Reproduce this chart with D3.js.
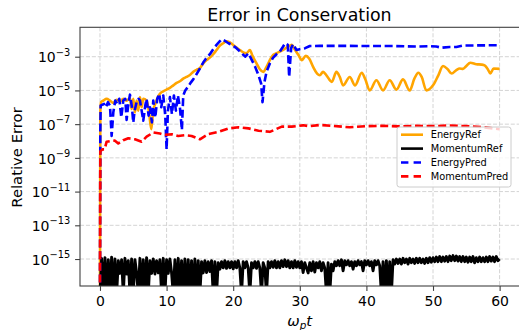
<!DOCTYPE html>
<html><head><meta charset="utf-8">
<script src="https://cdn.jsdelivr.net/npm/d3@7"></script>
<style>
body{margin:0;background:#fff}
svg{display:block}
text{font-family:"DejaVu Sans",sans-serif;fill:#000}
</style>
</head><body>
<svg id="c" width="519" height="330"></svg>
<script>
// ---------------- data ----------------
const xTicks = [0, 10, 20, 30, 40, 50, 60];
const yTickExps = [-15, -13, -11, -9, -7, -5, -3];
const seriesNames = ["EnergyRef", "MomentumRef", "EnergyPred", "MomentumPred"];

const energyRefT = [0,0.05,0.15,0.5,1,1.5,2,2.5,3,3.5,4,4.5,4.75,5,5.25,5.5,5.75,6,6.25,6.5,7,7.4,7.7,8,8.3,8.7,9,9.5,10,10.5,11,11.5,12,12.5,13,13.5,14,14.5,15,15.5,16,16.5,17,17.5,18,18.5,19,19.5,20,20.5,21,21.5,22,22.5,22.9,23.5,24,24.5,25,25.5,26,26.5,27,27.5,28,28.5,28.8,29.2,29.8,30.3,30.9,31.4,32,32.6,33,33.5,34,34.8,35.5,36,36.5,37.5,38.3,39.3,39.8,40.5,41.5,42.5,43.5,44.5,45.5,46.5,47.2,47.8,48.3,49,50,50.8,51.5,52.2,52.8,53.5,54,54.5,55,55.6,56.5,57.3,57.8,58.3,58.6,59.1,60];
const energyRefV = [0,5e-7,2.0e-6,2.5e-6,3.2e-6,2.5e-6,1.8e-6,2.8e-6,2.2e-6,3.2e-6,2.5e-6,3.5e-6,7.9e-7,3.2e-6,5e-7,2.5e-6,6.3e-7,4e-6,1e-6,3.2e-6,2.5e-6,4e-7,5e-8,6.3e-7,1.6e-6,4e-6,6.3e-6,8.9e-6,1.12e-5,1.4e-5,2e-5,2.8e-5,3.5e-5,5e-5,6.3e-5,8.3e-5,1.26e-4,1.66e-4,2.1e-4,4e-4,6.3e-4,8.9e-4,1.4e-3,2.5e-3,4.5e-3,6.3e-3,8.3e-3,7.1e-3,5e-3,3.5e-3,2.5e-3,1.8e-3,1.6e-3,2.5e-3,1.12e-3,4e-4,1.8e-4,1.26e-4,2.5e-4,6.3e-4,1.26e-3,1.6e-3,2e-3,2.5e-3,3.5e-3,4.5e-3,5e-3,2.8e-3,1.26e-3,6.3e-4,1.12e-3,7.9e-4,2.5e-4,1e-4,7.9e-5,1.26e-4,7.9e-5,3.2e-5,1.26e-4,6.3e-5,2e-5,6.3e-5,2e-5,1.12e-4,5e-5,1e-5,4e-5,1e-5,4e-5,1.12e-5,4.5e-5,1e-5,5e-5,1.12e-4,6.3e-5,1e-5,2e-5,7.9e-5,2.8e-4,1.8e-4,1e-4,1.6e-4,2e-4,1.9e-4,2.8e-4,4.4e-4,3.6e-4,3.4e-4,3e-4,1.6e-4,1e-4,2e-4,1.9e-4];

const energyPredT = [0,0.05,0.1,0.3,0.6,0.9,1.2,1.5,1.75,2,2.3,2.6,2.9,3.2,3.5,3.8,4,4.2,4.5,4.8,5,5.2,5.5,5.8,6,6.3,6.5,6.8,7,7.3,7.5,7.8,8,8.3,8.6,8.9,9.2,9.5,9.8,10,10.2,10.5,10.8,11.1,11.4,11.7,12,12.3,12.5,12.8,13.2,13.6,14,14.4,15,15.5,15.9,16.5,17,17.5,18,18.3,18.7,19.3,19.8,20.5,21.3,21.8,22.3,22.8,23.3,23.8,24.2,24.4,24.7,25,25.5,26,26.5,27,27.4,27.8,28.2,28.4,28.7,29,29.5,30,30.8,31.5,33,36,40,44,47.5,49.5,50.5,51.3,52.5,53.5,54.5,60];
const energyPredV = [0,3.2e-8,1.26e-6,1.4e-6,1.6e-6,1e-6,2e-6,1.26e-6,2e-8,5e-7,2.5e-6,1.6e-6,3.2e-6,2.5e-7,2.5e-6,3.2e-6,1.8e-7,1e-6,5.6e-6,1e-6,1.26e-7,6.3e-7,2e-6,3.2e-6,2.5e-6,5e-7,1.6e-7,1.26e-6,3.2e-6,3.2e-7,1e-6,1.26e-7,2.5e-6,2.5e-7,3.2e-6,6.3e-6,1e-6,5e-6,3.2e-7,3.2e-9,6.3e-7,4e-6,4e-7,5e-6,6.3e-7,5e-6,1e-6,4.5e-8,5e-6,1e-5,1.6e-5,2.8e-5,4.5e-5,7.9e-5,2e-4,4.5e-4,7.6e-4,1.4e-3,2.8e-3,5e-3,8.3e-3,1.07e-2,8.9e-3,6.3e-3,5e-3,3.2e-3,1.6e-3,1e-3,1.6e-3,6.3e-4,2.5e-4,7.9e-5,2.5e-5,2e-6,3.2e-5,1.26e-4,4e-4,8.9e-4,1.4e-3,2e-3,3.5e-3,6.3e-3,5e-3,6.3e-5,3.2e-3,5.6e-3,2.5e-3,2.8e-3,3.2e-3,4.3e-3,4.4e-3,4.4e-3,4.3e-3,4.3e-3,4e-3,4.2e-3,4e-3,3.4e-3,3.8e-3,3.8e-3,4.6e-3,4.8e-3];

const momentumPredT = [0,0.05,0.4,0.7,1,1.6,2.25,2.75,3.5,4.25,5.25,6.25,7,8,9,9.75,10.8,11.75,12.8,13.75,15,16.3,17.8,19.3,20.8,22.3,23.8,25.5,27.3,28.8,30.5,31.5,33,35,37.5,40,42.5,45,47.5,50,52.5,55,57.5,60];
const momentumPredV = [0,2.5e-9,3.2e-9,3.2e-9,9.1e-9,1e-8,1.05e-8,7.2e-9,1.12e-8,1.45e-8,1.26e-8,9.1e-9,1.8e-8,3.2e-8,2.8e-8,2.3e-8,2.5e-8,2e-8,2.2e-8,2e-8,1.26e-8,2.6e-8,3.5e-8,5.6e-8,6.5e-8,5.6e-8,4.1e-8,3.5e-8,7.1e-8,7.1e-8,8.5e-8,7.6e-8,8.9e-8,7.9e-8,6.5e-8,7.6e-8,7.9e-8,7.4e-8,7.9e-8,7.6e-8,8.3e-8,7.6e-8,6.6e-8,5e-8];

// MomentumRef sampled every 0.25 time units from t = 0 to t = 60
const momentumRefDt = 0.25;
const momentumRefV = [
0,11e-16,0,12e-16, 0,9e-16,0,13e-16, 0,10e-16,0,8e-16, 1.4e-16,9e-16,0,11e-16, 1.3e-16,8e-16,0,10e-16,
0,9e-16,1.5e-16,0, 11e-16,0,9e-16,0, 12e-16,0,8e-16,1.4e-16, 10e-16,1.3e-16,8e-16,1.5e-16, 9e-16,0,11e-16,0,
9e-16,1.4e-16,10e-16,1.5e-16, 0,9e-16,0,11e-16, 0,8e-16,0,10e-16, 0,9e-16,0,8e-16, 0,10e-16,0,8e-16,
0,7e-16,1.5e-16,8e-16, 1.6e-16,7e-16,1.8e-16,8e-16, 0,7e-16,0,6e-16, 2.5e-16,7e-16,3e-16,8e-16, 2.8e-16,7e-16,3e-16,7e-16,
2.6e-16,7e-16,3e-16,8e-16, 3e-16,0,7e-16,3e-16, 7e-16,3e-16,0,6e-16, 3e-16,7e-16,2.8e-16,7e-16, 3e-16,0,6e-16,3e-16,
0,7e-16,3e-16,7e-16, 3.2e-16,8e-16,3e-16,7e-16, 3e-16,8e-16,3.5e-16,9e-16, 3.5e-16,8e-16,3e-16,7e-16, 3e-16,8e-16,3.2e-16,7e-16,
3e-16,7e-16,1.6e-16,6e-16, 3e-16,1.5e-16,6e-16,2e-16, 7e-16,1.7e-16,6e-16,3e-16, 7e-16,2e-16,6e-16,3e-16, 0,6e-16,0,5e-16,
2e-16,7e-16,4e-16,8e-16, 4e-16,9e-16,2e-16,8e-16, 4.5e-16,8e-16,4e-16,7e-16, 2.5e-16,7e-16,4e-16,8e-16, 4.5e-16,7e-16,2e-16,8e-16,
4.5e-16,8e-16,4e-16,7e-16, 2e-16,8e-16,4.5e-16,8e-16, 4e-16,0,7e-16,0, 8e-16,0,7e-16,0, 9e-16,5e-16,10e-16,5.5e-16,
10e-16,5e-16,11e-16,6e-16, 10e-16,5e-16,11e-16,6e-16, 10e-16,5.5e-16,11e-16,6e-16, 11e-16,6e-16,10e-16,5.5e-16, 11e-16,6e-16,12e-16,6.5e-16,
12e-16,7e-16,13e-16,7e-16, 14e-16,7e-16,13e-16,7.5e-16, 14e-16,7e-16,15e-16,8e-16, 16e-16,8e-16,15e-16,7.5e-16, 14e-16,7e-16,14e-16,7e-16,
13e-16,6.5e-16,13e-16,7e-16, 14e-16,6e-16,12e-16,7e-16, 13e-16,7e-16,12e-16,7e-16, 13e-16,7e-16,14e-16,7.5e-16, 13e-16,7e-16,14e-16,8e-16,
10e-16];
const momentumRefT = momentumRefV.map((_, i) => i * momentumRefDt);

// ---------------- chart ----------------
const svg = d3.select("#c");
const box = {left: 80, right: 519.6, top: 27.3, bottom: 286};
const x = d3.scaleLinear().domain([-3, 63]).range([box.left, box.right]);
const y = d3.scaleLog().domain([Math.pow(10, -16.6), Math.pow(10, -1.256)]).range([box.bottom, box.top]);
// non-positive values are clipped just below the bottom of the axes
const yv = v => v > 0 ? y(v) : box.bottom + 8;

svg.append("defs").append("clipPath").attr("id", "clip")
  .append("rect").attr("x", box.left).attr("y", box.top)
  .attr("width", box.right - box.left).attr("height", box.bottom - box.top);

// grid
const grid = svg.append("g").attr("stroke", "#d4d4d4").attr("stroke-width", 1)
  .attr("stroke-dasharray", "4.1,1.8");
grid.selectAll(".gx").data(xTicks).join("line")
  .attr("x1", d => x(d)).attr("x2", d => x(d)).attr("y1", box.top).attr("y2", box.bottom);
grid.selectAll(".gy").data(yTickExps).join("line")
  .attr("y1", d => y(Math.pow(10, d))).attr("y2", d => y(Math.pow(10, d)))
  .attr("x1", box.left).attr("x2", box.right);

// lines
const plot = svg.append("g").attr("clip-path", "url(#clip)");
function drawLine(ts, vs, color, dash, curve, width) {
  const pts = ts.map((t, i) => [t, vs[i]]);
  const line = d3.line().x(d => x(d[0])).y(d => yv(d[1])).curve(curve || d3.curveLinear);
  plot.append("path").datum(pts).attr("d", line)
    .attr("fill", "none").attr("stroke", color).attr("stroke-width", width || 2.6)
    .attr("stroke-linejoin", "round")
    .attr("stroke-dasharray", dash || null);
}
drawLine(energyRefT, energyRefV, "#ffa500", null, d3.curveMonotoneX);
drawLine(momentumRefT, momentumRefV, "#000000", null, null, 2.9);
drawLine(energyPredT, energyPredV, "#0000ff", "8,3.6");
drawLine(momentumPredT, momentumPredV, "#ff0000", "8,3.6");

// axes
const spine = "#404040";
const xAxis = svg.append("g").attr("transform", `translate(0,${box.bottom})`)
  .call(d3.axisBottom(x).tickValues(xTicks).tickSize(4.9).tickPadding(5.2).tickSizeOuter(0));
xAxis.select(".domain").remove();
xAxis.selectAll("line").attr("stroke", spine).attr("stroke-width", 1.1);
xAxis.selectAll("text").attr("font-size", "14px").attr("font-family", "DejaVu Sans");

const yAxis = svg.append("g").attr("transform", `translate(${box.left},0)`)
  .call(d3.axisLeft(y).tickValues(yTickExps.map(e => Math.pow(10, e))).tickSize(4.9).tickPadding(4.9).tickFormat(""));
yAxis.select(".domain").remove();
yAxis.selectAll("line").attr("stroke", spine).attr("stroke-width", 1.1);
yAxis.selectAll(".tick").each(function(d, i) {
  const t = d3.select(this).select("text")
    .attr("font-size", "14px").attr("dy", null).attr("y", 5.2).attr("text-anchor", "end");
  t.append("tspan").text("10");
  t.append("tspan").attr("font-size", "9.8px").attr("dy", -6.6).text("\u2212" + Math.abs(yTickExps[i]));
});

// spines
svg.append("rect").attr("x", box.left).attr("y", box.top)
  .attr("width", box.right - box.left).attr("height", box.bottom - box.top)
  .attr("fill", "none").attr("stroke", spine).attr("stroke-width", 1.1);

// title & labels
svg.append("text").attr("x", 299.5).attr("y", 20.7).attr("text-anchor", "middle")
  .attr("font-size", "17.4px").text("Error in Conservation");
svg.append("text").attr("transform", "translate(21.7,157.5) rotate(-90)")
  .attr("text-anchor", "middle").attr("font-size", "14.8px").text("Relative Error");
const xl = svg.append("text").attr("x", 299.7).attr("y", 326).attr("text-anchor", "middle").attr("font-size", "14.8px");
xl.append("tspan").attr("font-style", "italic").text("ω");
xl.append("tspan").attr("font-style", "italic").attr("font-size", "10.4px").attr("dy", 2.6).text("p");
xl.append("tspan").attr("font-style", "italic").attr("dy", -2.6).text("t");

// legend
const lg = svg.append("g");
lg.append("rect").attr("x", 397).attr("y", 127).attr("width", 114).attr("height", 60)
  .attr("rx", 2.5).attr("fill", "#fff").attr("fill-opacity", 0.8)
  .attr("stroke", "#cccccc").attr("stroke-width", 1);
const legColors = ["#ffa500", "#000000", "#0000ff", "#ff0000"];
const legDash = [null, null, "7.4,5.2", "7.4,5.2"];
seriesNames.forEach((name, i) => {
  const cy = 134.7 + i * 13.9;
  lg.append("line").attr("x1", 401).attr("x2", 423).attr("y1", cy).attr("y2", cy)
    .attr("stroke", legColors[i]).attr("stroke-width", 2.6).attr("stroke-dasharray", legDash[i]);
  lg.append("text").attr("x", 430.7).attr("y", cy + 3.5).attr("font-size", "9.8px").text(name);
});
</script>
</body></html>
